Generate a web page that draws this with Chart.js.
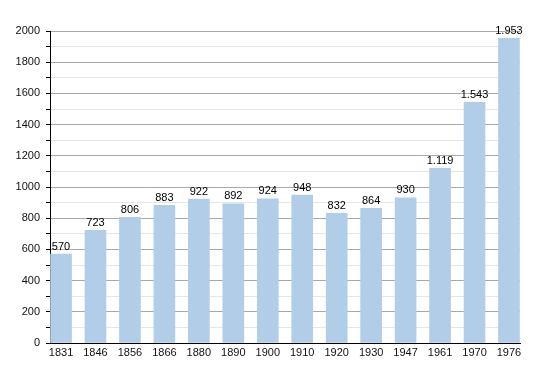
<!DOCTYPE html>
<html><head><meta charset="utf-8">
<script src="https://cdn.jsdelivr.net/npm/chart.js@4/dist/chart.umd.min.js"></script>
<style>html,body{margin:0;padding:0;background:#fff}#w{width:550px;height:373px}</style>
</head><body><div id="w"><canvas id="c"></canvas></div>
<script>
const years = ["1831","1846","1856","1866","1880","1890","1900","1910","1920","1930","1947","1961","1970","1976"];
const population = [570,723,806,883,922,892,924,948,832,864,930,1119,1543,1953];
const yTicksMajor = [0,200,400,600,800,1000,1200,1400,1600,1800,2000];

Chart.defaults.font.family = '"Liberation Sans", Arial, sans-serif';
Chart.defaults.font.size = 11;
Chart.defaults.color = '#111';

function fmt(v){ return v >= 1000 ? String(v).replace(/(\d)(\d{3})$/, '$1.$2') : String(v); }

const labelPlugin = {
  id: 'vals',
  afterDatasetsDraw(chart){
    const ctx = chart.ctx;
    const meta = chart.getDatasetMeta(0);
    ctx.save();
    ctx.font = '11px "Liberation Sans", Arial, sans-serif';
    ctx.fillStyle = '#000';
    ctx.textAlign = 'center';
    ctx.textBaseline = 'bottom';
    meta.data.forEach((el, i) => {
      ctx.fillText(fmt(population[i]), el.x, el.y - 2);
    });
    ctx.restore();
  }
};

new Chart(document.getElementById('c'), {
  type: 'bar',
  data: {
    datasets: [{
      data: population.map((v, i) => ({x: i, y: v})),
      backgroundColor: 'rgb(178,205,231)',
      borderWidth: 0,
      barThickness: 21
    }]
  },
  options: {
    responsive: true,
    maintainAspectRatio: false,
    animation: false,
    layout: { padding: { top: 31, right: 30, left: 0, bottom: 0 } },
    plugins: { legend: { display: false }, tooltip: { enabled: false } },
    scales: {
      x: {
        type: 'linear',
        offset: false,
        min: -0.32, max: 13.32,
        afterFit(s){ s.height = 30; },
        grid: { display: false },
        border: { display: true, color: '#000', width: 1 },
        ticks: {
          stepSize: 1, includeBounds: false, autoSkip: false, maxRotation: 0,
          padding: -5,
          callback: v => (Number.isInteger(v) && years[v] !== undefined) ? years[v] : null
        }
      },
      y: {
        min: 0, max: 2000,
        afterFit(s){ s.width = 50; },
        border: { display: true, color: '#000', width: 1 },
        grid: {
          color: c => (c.tick && c.tick.value % 200 === 0) ? '#a9a9a9' : '#e6e6e6',
          tickColor: '#000',
          tickLength: 4
        },
        ticks: {
          stepSize: 100, autoSkip: false, padding: 6,
          callback: v => yTicksMajor.includes(v) ? String(v) : ''
        }
      }
    }
  },
  plugins: [labelPlugin]
});
</script>
</body></html>
